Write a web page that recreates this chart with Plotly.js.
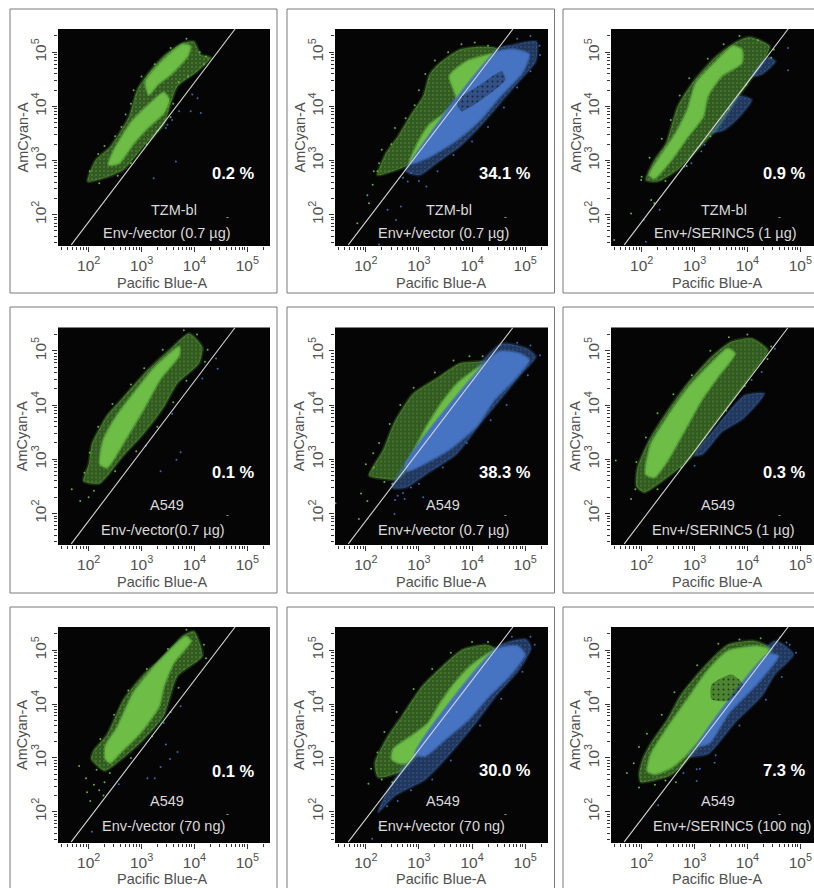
<!DOCTYPE html>
<html><head><meta charset="utf-8">
<script src="https://cdn.plot.ly/plotly-3.0.1.min.js"></script>
<style>html,body{margin:0;padding:0;background:#fff;overflow:hidden;width:814px;height:888px}</style>
</head><body><div id="chart"></div>
<script>
// All outlines and dots are log10(intensity) decades.
const tickDecades=[2,3,4,5];
const tickLabels=['10<sup>2</sup>','10<sup>3</sup>','10<sup>4</sup>','10<sup>5</sup>'];
const minorTickValues=[30,40,50,60,70,80,90,200,300,400,500,600,700,800,900,2000,3000,4000,5000,6000,7000,8000,9000,20000,30000,40000,50000,60000,70000,80000,90000,200000];
const gateLogX=[1.67,4.77];
const gateLogY=[1.44,5.43];
const cellLines=['TZM-bl','TZM-bl','TZM-bl','A549','A549','A549','A549','A549','A549'];
const conditions=['Env-/vector (0.7 µg)','Env+/vector (0.7 µg)','Env+/SERINC5 (1 µg)','Env-/vector(0.7 µg)','Env+/vector (0.7 µg)','Env+/SERINC5 (1 µg)','Env-/vector (70 ng)','Env+/vector (70 ng)','Env+/SERINC5 (100 ng)'];
const percents=['0.2 %','34.1 %','0.9 %','0.1 %','38.3 %','0.3 %','0.1 %','30.0 %','7.3 %'];

// Panel 1
const p1SparseGreenX=[1.98,2.13,2.41,2.76,2.92,3.11,3.42,3.77,3.99,4.12,4.31,4.06,3.68,3.52,3.42,3.04,2.66,2.28];
const p1SparseGreenY=[2.61,3.01,3.26,3.81,4.31,4.59,4.93,5.17,5.20,4.96,4.90,4.65,4.37,3.94,3.66,3.26,2.83,2.67];
const p1DenseGreenX=[3.08,3.42,3.77,3.92,3.87,3.55,3.30,3.14];
const p1DenseGreenY=[4.46,4.86,5.14,5.11,4.93,4.59,4.40,4.22];
const p1DenseGreen2X=[2.38,2.47,2.82,3.17,3.42,3.52,3.42,3.11,2.85,2.57];
const p1DenseGreen2Y=[2.92,3.17,3.72,4.06,4.25,4.12,3.88,3.60,3.32,2.95];
const p1BlueDotsX=[3.49,3.58,3.71,3.93,4.12,3.96,4.06,3.65,3.23,3.46];
const p1BlueDotsY=[3.66,3.75,3.91,3.91,3.88,4.22,4.15,2.98,2.67,3.60];
const p1GreenDotsX=[2.02,2.18,2.30,2.50,2.62,2.70,2.80,2.85,3.00,3.25,3.55,3.85,4.22,4.18,4.10,3.88,3.70,3.60,3.55,3.30,3.10,2.80,2.55,2.20];
const p1GreenDotsY=[2.80,3.12,3.27,3.45,3.62,3.85,4.05,4.30,4.55,4.78,5.08,5.25,4.92,4.78,5.00,4.55,4.45,4.05,3.80,3.55,3.30,2.95,2.72,2.58];
// Panel 2
const p2SparseGreenX=[2.22,2.38,2.60,2.85,3.08,3.20,3.39,3.77,4.15,4.47,2.80,2.51];
const p2SparseGreenY=[2.73,3.14,3.44,3.85,4.19,4.59,4.80,5.05,5.10,5.06,2.92,2.80];
const p2DenseGreenX=[2.82,2.98,3.20,3.46,3.71,3.58,3.90,4.34,4.37];
const p2DenseGreenY=[2.95,3.32,3.66,3.85,4.12,4.56,4.83,4.96,4.96];
const p2SparseBlueX=[2.75,4.47,4.78,5.21,5.20,4.91,4.53,4.15,3.77,3.33,3.01];
const p2SparseBlueY=[2.81,5.06,5.14,5.20,4.83,4.49,4.06,3.63,3.26,2.95,2.73];
const p2DenseBlueX=[2.85,4.44,4.78,5.07,4.94,4.53,4.15,3.71,3.20,2.89];
const p2DenseBlueY=[2.95,4.99,5.05,4.96,4.62,4.19,3.75,3.38,3.07,2.95];
const p2HoleX=[3.71,4.15,4.56,4.63,4.22,3.80];
const p2HoleY=[4.09,4.40,4.65,4.49,4.15,3.91];
const p2GreenDotsX=[2.06,2.13,1.84,2.22,2.03,2.15,2.25,2.30,2.48,2.55,2.75,2.92,3.00,3.12,3.30,3.55,3.80,4.05,4.30];
const p2GreenDotsY=[2.21,2.55,1.84,2.80,2.36,2.80,2.95,3.20,3.30,3.60,3.78,4.02,4.30,4.60,4.85,5.00,5.15,5.18,5.12];
const p2BlueDotsX=[2.41,2.66,2.57,2.79,3.14,2.25,2.85,4.85,5.10,5.27,5.28,5.10,4.85,4.60,4.30,4.00,3.65,3.35,3.00,2.70];
const p2BlueDotsY=[2.09,2.15,1.90,2.61,2.52,1.45,2.77,5.25,5.30,5.12,4.95,4.65,4.35,3.98,3.62,3.35,3.10,2.80,2.62,2.68];
// Panel 3
const p3SparseGreenX=[2.08,2.24,2.46,2.68,3.00,3.38,3.70,4.04,4.42,4.30,3.79,3.44,3.06,2.68,2.30];
const p3SparseGreenY=[2.64,3.01,3.32,4.00,4.49,4.90,5.14,5.28,5.11,4.83,4.12,3.60,3.20,2.83,2.61];
const p3DenseGreenX=[2.15,2.37,2.65,2.87,3.03,3.38,3.73,3.89,3.89,3.51,3.25,3.16,2.87,2.56,2.24];
const p3DenseGreenY=[2.73,3.10,3.51,3.94,4.43,4.80,5.11,5.05,4.80,4.56,4.19,3.81,3.44,3.01,2.67];
const p3SparseBlueX=[3.44,3.85,4.08,3.82,3.57,3.32];
const p3SparseBlueY=[3.66,4.19,4.12,3.78,3.57,3.51];
const p3SparseBlue2X=[4.08,4.39,4.53,4.27];
const p3SparseBlue2Y=[4.56,4.91,4.83,4.59];
const p3BlueDotsX=[2.94,3.19,3.13,2.81,4.77,4.77,2.04,2.08,2.34];
const p3BlueDotsY=[2.95,3.29,3.17,2.89,5.08,4.67,1.90,1.50,2.09];
const p3GreenDotsX=[1.80,1.99,1.48,2.18,2.24,2.00,2.15,2.38,2.55,2.72,2.90,3.25,3.55,3.85,4.20,4.50,4.45,3.98,3.65,3.30,2.85,2.45];
const p3GreenDotsY=[2.02,2.64,1.53,2.27,2.21,2.70,3.05,3.40,3.75,4.20,4.52,4.88,5.15,5.30,5.22,5.05,4.90,4.40,3.95,3.45,2.90,2.62];
// Panel 4
const p4SparseGreenX=[1.90,2.00,2.06,2.35,2.66,3.11,3.55,3.90,4.15,4.09,3.68,3.42,3.04,2.66,2.20];
const p4SparseGreenY=[2.60,2.91,3.28,3.81,4.15,4.64,5.04,5.32,5.07,4.77,4.40,3.96,3.47,3.07,2.55];
const p4DenseGreenX=[2.22,2.28,2.54,2.85,3.23,3.71,3.71,3.36,3.04,2.66,2.35];
const p4DenseGreenY=[2.91,3.35,3.81,4.21,4.67,5.07,4.92,4.49,3.93,3.31,2.85];
const p4BlueDotsX=[3.58,3.74,3.66,3.36,4.41,4.44,4.15,3.08];
const p4BlueDotsY=[3.84,3.13,2.99,2.78,4.86,4.67,4.49,3.25];
const p4GreenDotsX=[1.68,1.84,2.00,1.92,2.02,2.18,2.45,2.80,3.05,3.40,3.80,4.05,4.25,4.20,3.85,3.60,3.30,2.90,2.50,2.10];
const p4GreenDotsY=[2.45,2.23,2.30,2.75,3.12,3.60,4.02,4.38,4.68,5.02,5.38,5.30,5.02,4.80,4.45,4.05,3.60,3.15,2.78,2.42];
// Panel 5
const p5SparseGreenX=[2.06,2.32,2.54,2.89,3.33,3.77,4.09,4.25,2.61,2.32];
const p5SparseGreenY=[2.70,3.16,3.69,4.21,4.49,4.77,4.80,4.80,2.64,2.64];
const p5DenseGreenX=[2.75,2.89,3.14,3.42,3.73,4.09,4.23];
const p5DenseGreenY=[2.88,3.13,3.59,4.02,4.40,4.67,4.73];
const p5SparseBlueX=[2.49,4.53,5.04,5.20,4.91,4.41,4.15,3.71,3.14,2.76];
const p5SparseBlueY=[2.48,5.12,5.04,4.89,4.55,3.96,3.65,3.10,2.73,2.48];
const p5DenseBlueX=[2.76,4.50,4.88,5.07,4.78,4.41,4.09,3.58,3.08,2.79];
const p5DenseBlueY=[2.92,4.98,4.95,4.83,4.46,4.09,3.62,3.19,2.91,2.79];
const p5GreenDotsX=[1.91,1.87,2.03,2.00,2.14,1.43,2.15,2.25,2.45,2.65,2.90,3.30,3.65,3.95,4.20,2.35,2.50];
const p5GreenDotsY=[2.37,1.90,2.23,2.91,3.11,2.19,2.85,3.30,3.65,4.00,4.32,4.60,4.82,4.90,4.90,2.58,2.55];
const p5BlueDotsX=[2.54,2.73,2.60,3.08,2.85,4.85,5.10,5.28,5.05,4.65,4.35,3.90,3.45,3.00,2.70,2.55];
const p5BlueDotsY=[1.99,2.27,2.33,2.30,2.48,5.15,5.10,4.92,4.55,4.00,3.72,3.30,2.85,2.55,2.38,2.25];
// Panel 6
const p6SparseGreenX=[1.90,1.92,2.14,2.37,2.81,3.32,3.70,4.08,4.39,4.20,3.70,3.38,2.94,2.49,2.05];
const p6SparseGreenY=[2.50,2.85,3.35,3.72,4.33,4.89,5.17,5.23,5.01,4.73,4.06,3.65,3.04,2.67,2.39];
const p6DenseGreenX=[2.08,2.18,2.49,2.87,3.32,3.63,3.76,3.44,3.13,2.81,2.49,2.24];
const p6DenseGreenY=[2.73,3.28,3.78,4.30,4.77,5.04,4.95,4.52,4.09,3.53,2.98,2.67];
const p6SparseBlueX=[3.38,3.95,4.32,3.92,3.51,3.16,3.00];
const p6SparseBlueY=[3.56,4.18,4.21,3.75,3.50,3.10,3.07];
const p6BlueDotsX=[4.27,4.08,4.52,3.00];
const p6BlueDotsY=[4.61,4.46,5.04,2.88];
const p6GreenDotsX=[1.51,1.80,1.88,1.90,2.08,2.30,2.60,2.95,3.30,3.65,4.00,4.45,4.38,3.95,3.60,3.20,2.75,2.30];
const p6GreenDotsY=[2.98,2.27,2.45,2.95,3.40,3.85,4.20,4.55,5.00,5.25,5.30,5.08,4.85,4.35,3.90,3.40,2.85,2.45];
// Panel 7
const p7SparseGreenX=[2.05,2.09,2.35,2.66,3.04,3.42,3.77,3.99,4.15,3.68,3.42,2.98,2.54,2.30];
const p7SparseGreenY=[2.98,3.13,3.44,4.09,4.55,4.89,5.26,5.35,4.89,4.52,3.78,3.28,2.91,2.76];
const p7DenseGreenX=[2.32,2.32,2.54,2.85,3.17,3.55,3.84,3.93,3.61,3.42,3.33,2.98,2.60,2.41];
const p7DenseGreenY=[2.98,3.22,3.56,4.21,4.61,5.01,5.25,5.17,4.77,4.33,3.96,3.47,3.10,2.91];
const p7BlueDotsX=[3.46,3.68,3.54,3.36,3.11,3.25,2.57,3.74,3.42,2.06];
const p7BlueDotsY=[3.25,3.11,2.98,2.83,2.62,2.62,2.51,3.96,3.65,1.63];
const p7GreenDotsX=[1.82,1.97,2.03,1.95,2.10,2.20,2.28,2.30,2.15,2.22,2.48,2.75,3.10,3.50,3.85,4.18,4.22,3.70,3.55,3.20,2.80,2.40];
const p7GreenDotsY=[2.85,2.36,2.20,2.62,2.50,2.40,2.30,2.55,2.78,3.35,3.80,4.25,4.65,5.02,5.38,5.10,4.85,4.30,3.85,3.40,3.00,2.72];
// Panel 8
const p8SparseGreenX=[2.17,2.42,2.68,3.06,3.44,3.82,4.26,4.45,2.68,2.23];
const p8SparseGreenY=[2.91,3.41,3.78,4.33,4.70,5.01,5.10,5.01,2.76,2.64];
const p8DenseGreenX=[2.49,2.52,2.87,3.18,3.37,3.63,3.97,4.39,2.77,2.61];
const p8DenseGreenY=[2.98,3.16,3.41,3.65,3.96,4.33,4.70,4.98,2.91,2.91];
const p8SparseBlueX=[2.23,2.46,4.48,5.02,5.11,4.89,4.45,4.07,3.50,3.12,2.55];
const p8SparseBlueY=[1.99,2.48,5.07,5.20,5.04,4.64,4.15,3.65,2.98,2.60,2.30];
const p8DenseBlueX=[2.93,4.45,4.86,4.99,4.70,4.32,3.94,3.50,3.12];
const p8DenseBlueY=[3.07,5.01,5.07,4.92,4.52,4.15,3.72,3.35,3.04];
const p8GreenDotsX=[2.10,2.22,2.35,2.58,2.90,3.25,3.60,4.00,4.30,2.30,2.50,2.05];
const p8GreenDotsY=[2.80,3.10,3.48,3.85,4.28,4.65,4.95,5.15,5.15,2.60,2.55,2.52];
const p8BlueDotsX=[2.25,2.12,2.40,4.75,5.10,5.18,4.95,4.55,4.15,3.60,3.25,2.85,2.60];
const p8BlueDotsY=[1.70,1.50,2.10,5.25,5.25,5.10,4.60,4.10,3.60,2.95,2.60,2.40,2.20];
// Panel 9
const p9SparseGreenX=[1.95,2.02,2.18,2.49,2.75,3.19,3.63,4.14,4.46,2.73,2.53,2.18,1.98];
const p9SparseGreenY=[2.70,2.98,3.28,3.72,4.18,4.70,5.10,5.17,5.01,2.82,2.67,2.57,2.55];
const p9DenseGreenX=[2.11,2.18,2.49,2.87,3.25,3.63,4.20,4.39,2.84,2.56,2.24];
const p9DenseGreenY=[2.76,3.07,3.56,4.09,4.62,4.98,5.07,5.01,3.06,2.82,2.70];
const p9HoleX=[3.32,3.70,3.92,3.63,3.32];
const p9HoleY=[4.36,4.55,4.36,4.06,4.09];
const p9SparseBlueX=[2.87,4.52,4.87,4.52,4.27,3.76,3.25];
const p9SparseBlueY=[3.04,5.17,4.92,4.55,4.15,3.65,3.07];
const p9DenseBlueX=[3.06,4.39,4.58,4.20,3.65,3.28];
const p9DenseBlueY=[3.22,4.92,4.89,4.40,3.84,3.28];
const p9GreenDotsX=[1.72,1.85,1.95,2.10,2.38,2.62,3.05,3.45,3.85,4.25,2.25,1.95,2.45,2.65];
const p9GreenDotsY=[2.72,2.90,3.20,3.45,3.80,4.22,4.72,5.12,5.20,5.22,2.50,2.45,2.58,2.55];
const p9BlueDotsX=[3.38,3.04,2.79,3.04,2.31,4.74,4.62,4.80,4.92,4.65,4.35,3.85,3.40,3.10];
const p9BlueDotsY=[2.91,2.79,2.72,2.57,2.12,5.14,5.24,5.10,4.95,4.50,4.08,3.60,3.05,2.80];

// Layout in page pixels
const W=840,H=900;
const colPx=[[58,270],[335,548],[611,823]];
const rowPx=[[29,246],[327.5,545],[627,843]];
const frameColPx=[[10,277],[287,554.5],[563,830]];
const frameRowPx=[[9,293],[307,593],[607,893]];
const xTitleCenterPx=[162,441,717];
const xTitleRowPx=[283,582,879];
const pctPos=[[233,173],[505,173],[784,173],[233,472],[505,472],[784,472],[233,771],[505,770],[784,770]];
const cellPos=[[174,210],[449,210],[724,210],[167,505],[443,505],[718,505],[167,801],[443,801],[718,801]];
const condPos=[[167,233],[443,233],[725,233],[163,530],[443,530],[723,530],[163,826],[441,826],[732,826]];
const dashPos=[[227,216],[505,216],[779,216],[227,514],[505,514],[779,514],[227,813],[505,813],[779,813]];

const GREEN='#6dbd47',BLUE='#4674c2',AXIS='#505050';
const pow=a=>a.map(v=>Math.pow(10,v));
const traces=[];
function poly(i,xs,ys,color,sparse,edge){
  const ax=i===0?'':String(i+1);
  const t={type:'scatter',mode:'lines',x:pow(xs.concat(xs[0])),y:pow(ys.concat(ys[0])),xaxis:'x'+ax,yaxis:'y'+ax,
    fill:'toself',line:{width:edge?3:0,color:edge||color,shape:'spline',smoothing:0.6},hoverinfo:'skip',showlegend:false};
  if(sparse){t.fillcolor=sparse.bg;t.fillpattern={shape:'.',size:sparse.size,solidity:sparse.sol,fgcolor:color,fgopacity:0.6,bgcolor:sparse.bg};}
  else t.fillcolor=color;
  traces.push(t);
}
function dots(i,xs,ys,color){
  const ax=i===0?'':String(i+1);
  traces.push({type:'scatter',mode:'markers',x:pow(xs),y:pow(ys),xaxis:'x'+ax,yaxis:'y'+ax,
    marker:{size:2,color:color},hoverinfo:'skip',showlegend:false});
}
const SG={bg:'rgba(95,175,62,0.50)',size:4,sol:0.12};
const SB={bg:'rgba(62,105,178,0.50)',size:4,sol:0.12};
const HOLE={bg:'rgba(0,0,0,0.30)',size:5,sol:0.12};
const EDGE_G='rgba(100,175,65,0.22)',EDGE_B='rgba(65,105,175,0.22)',EDGE_DG='rgba(100,180,65,0.55)',EDGE_DB='rgba(65,110,185,0.55)';
const panels=[
 {sg:[[p1SparseGreenX,p1SparseGreenY]],dg:[[p1DenseGreenX,p1DenseGreenY],[p1DenseGreen2X,p1DenseGreen2Y]],gd:[p1GreenDotsX,p1GreenDotsY],bd:[p1BlueDotsX,p1BlueDotsY]},
 {sg:[[p2SparseGreenX,p2SparseGreenY]],dg:[[p2DenseGreenX,p2DenseGreenY]],sb:[[p2SparseBlueX,p2SparseBlueY]],db:[[p2DenseBlueX,p2DenseBlueY]],hole:[p2HoleX,p2HoleY],gd:[p2GreenDotsX,p2GreenDotsY],bd:[p2BlueDotsX,p2BlueDotsY]},
 {sg:[[p3SparseGreenX,p3SparseGreenY]],dg:[[p3DenseGreenX,p3DenseGreenY]],sb:[[p3SparseBlueX,p3SparseBlueY],[p3SparseBlue2X,p3SparseBlue2Y]],gd:[p3GreenDotsX,p3GreenDotsY],bd:[p3BlueDotsX,p3BlueDotsY]},
 {sg:[[p4SparseGreenX,p4SparseGreenY]],dg:[[p4DenseGreenX,p4DenseGreenY]],gd:[p4GreenDotsX,p4GreenDotsY],bd:[p4BlueDotsX,p4BlueDotsY]},
 {sg:[[p5SparseGreenX,p5SparseGreenY]],dg:[[p5DenseGreenX,p5DenseGreenY]],sb:[[p5SparseBlueX,p5SparseBlueY]],db:[[p5DenseBlueX,p5DenseBlueY]],gd:[p5GreenDotsX,p5GreenDotsY],bd:[p5BlueDotsX,p5BlueDotsY]},
 {sg:[[p6SparseGreenX,p6SparseGreenY]],dg:[[p6DenseGreenX,p6DenseGreenY]],sb:[[p6SparseBlueX,p6SparseBlueY]],gd:[p6GreenDotsX,p6GreenDotsY],bd:[p6BlueDotsX,p6BlueDotsY]},
 {sg:[[p7SparseGreenX,p7SparseGreenY]],dg:[[p7DenseGreenX,p7DenseGreenY]],gd:[p7GreenDotsX,p7GreenDotsY],bd:[p7BlueDotsX,p7BlueDotsY]},
 {sg:[[p8SparseGreenX,p8SparseGreenY]],dg:[[p8DenseGreenX,p8DenseGreenY]],sb:[[p8SparseBlueX,p8SparseBlueY]],db:[[p8DenseBlueX,p8DenseBlueY]],gd:[p8GreenDotsX,p8GreenDotsY],bd:[p8BlueDotsX,p8BlueDotsY]},
 {sg:[[p9SparseGreenX,p9SparseGreenY]],dg:[[p9DenseGreenX,p9DenseGreenY]],sb:[[p9SparseBlueX,p9SparseBlueY]],db:[[p9DenseBlueX,p9DenseBlueY]],hole:[p9HoleX,p9HoleY],gd:[p9GreenDotsX,p9GreenDotsY],bd:[p9BlueDotsX,p9BlueDotsY]}
];
const BLUEDOT='#3f66b0',GREENDOT='#62b03f';
panels.forEach((p,i)=>{
  (p.sg||[]).forEach(a=>poly(i,a[0],a[1],GREEN,SG,EDGE_G));
  (p.sb||[]).forEach(a=>poly(i,a[0],a[1],BLUE,SB,EDGE_B));
  (p.dg||[]).forEach(a=>poly(i,a[0],a[1],GREEN,null,EDGE_DG));
  (p.db||[]).forEach(a=>poly(i,a[0],a[1],BLUE,null,EDGE_DB));
  if(p.hole) poly(i,p.hole[0],p.hole[1],'#050505',HOLE);
  if(p.gd) dots(i,p.gd[0],p.gd[1],GREENDOT);
  if(p.bd) dots(i,p.bd[0],p.bd[1],BLUEDOT);
  const ax=i===0?'':String(i+1);
  traces.push({type:'scatter',mode:'lines',x:pow(gateLogX),y:pow(gateLogY),xaxis:'x'+ax,yaxis:'y'+ax,
    line:{color:'#d4d4d4',width:1.1},hoverinfo:'skip',showlegend:false});
});

const layout={width:W,height:H,margin:{l:0,r:0,t:0,b:0},paper_bgcolor:'#fff',plot_bgcolor:'#050505',showlegend:false,shapes:[],annotations:[]};
const FONT='"Liberation Sans",Arial,sans-serif';
const tickVals=pow(tickDecades);
function axis(base){return Object.assign({type:'log',range:[1.42,5.43],tickmode:'array',tickvals:tickVals,ticktext:tickLabels,
  ticks:'outside',ticklen:5,tickwidth:1,tickcolor:'#333',showgrid:false,zeroline:false,showline:false,
  tickfont:{family:FONT,size:15.5,color:AXIS},
  minor:{ticks:'outside',ticklen:3,tickwidth:1,tickcolor:'#333',tickmode:'array',tickvals:minorTickValues,showgrid:false}},base);}
function note(text,pos,size,color,bold,angle){
  layout.annotations.push({xref:'paper',yref:'paper',x:pos[0]/W,y:1-pos[1]/H,xanchor:'center',yanchor:'middle',showarrow:false,textangle:angle||0,
    text:bold?'<b>'+text+'</b>':text,font:{family:FONT,size:size,color:color}});
}
for(let r=0;r<3;r++)for(let c=0;c<3;c++){
  const i=r*3+c,ax=i===0?'':String(i+1);
  layout['xaxis'+ax]=axis({domain:[colPx[c][0]/W,colPx[c][1]/W],anchor:'y'+ax});
  layout['yaxis'+ax]=axis({domain:[1-rowPx[r][1]/H,1-rowPx[r][0]/H],anchor:'x'+ax,tickangle:-90});
  note('Pacific Blue-A',[xTitleCenterPx[c],xTitleRowPx[r]],14.5,AXIS,false);
  note('AmCyan-A',[colPx[c][0]-36,(rowPx[r][0]+rowPx[r][1])/2],14.5,AXIS,false,-90);
  layout.shapes.push({type:'rect',xref:'paper',yref:'paper',layer:'below',
    x0:frameColPx[c][0]/W,x1:frameColPx[c][1]/W,y0:1-frameRowPx[r][1]/H,y1:1-frameRowPx[r][0]/H,
    line:{color:'#7a7a7a',width:1},fillcolor:'rgba(0,0,0,0)'});
}
percents.forEach((t,i)=>note(t,pctPos[i],16.5,'#ffffff',true));
cellLines.forEach((t,i)=>note(t,cellPos[i],14.5,'#d9d9d9',false));
conditions.forEach((t,i)=>note(t,condPos[i],14.5,'#d9d9d9',false));
dashPos.forEach(p=>note('-',p,8,'#e0e0e0',false));
Plotly.newPlot('chart',traces,layout,{displayModeBar:false,responsive:false});
</script></body></html>
